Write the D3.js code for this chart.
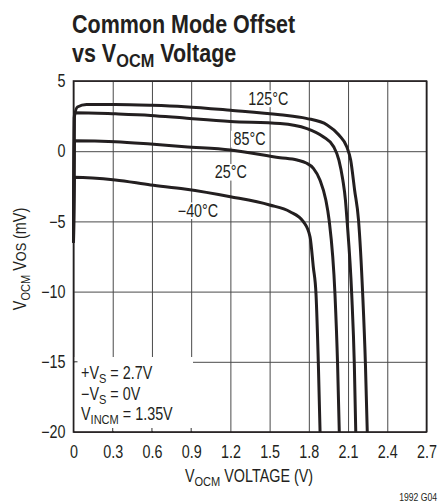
<!DOCTYPE html>
<html><head><meta charset="utf-8">
<script src="https://cdn.jsdelivr.net/npm/d3@7"></script>
<style>
html,body{margin:0;padding:0;background:#fff;}
svg text{font-family:"Liberation Sans",Arial,sans-serif;fill:#231f20;}
</style></head>
<body><svg id="c" width="438" height="504"></svg>
<script>
const xTicks = [0,0.3,0.6,0.9,1.2,1.5,1.8,2.1,2.4,2.7];
const xTickLabels = ["0","0.3","0.6","0.9","1.2","1.5","1.8","2.1","2.4","2.7"];
const yTicks = [5,0,-5,-10,-15,-20];
const yTickLabels = ["5","0","\u22125","\u221210","\u221215","\u221220"];
const seriesNames = ["125°C","85°C","25°C","\u221240°C"];
const s125 = [[0,-6.5],[0.006,2.4],[0.03,3.15],[0.1,3.32],[0.32,3.33],[0.6,3.27],[0.85,3.17],[1.2,2.92],[1.58,2.6],[1.78,2.34],[1.94,1.87],[2.03,1.15],[2.09,0.32],[2.12,-0.63],[2.15,-2.76],[2.18,-4.9],[2.212,-10.2],[2.233,-15.2],[2.247,-20]];
const s85 = [[0,-6.5],[0.008,2.74],[0.32,2.66],[0.59,2.55],[0.85,2.36],[1.2,2.12],[1.58,1.97],[1.78,1.63],[1.91,1.03],[1.99,0.32],[2.03,-0.63],[2.06,-2.05],[2.08,-3.48],[2.092,-4.9],[2.128,-10.2],[2.148,-15.2],[2.159,-20]];
const s25 = [[0,-6.5],[0.008,0.75],[0.32,0.68],[0.59,0.51],[0.85,0.32],[1.2,0.09],[1.58,-0.46],[1.71,-0.63],[1.78,-0.84],[1.835,-1.22],[1.885,-2.05],[1.93,-3.48],[1.955,-4.9],[2.0,-10.2],[2.02,-15.2],[2.033,-20]];
const sm40 = [[0,-6.5],[0.008,-1.86],[0.32,-2.05],[0.59,-2.4],[0.85,-2.69],[1.2,-3.24],[1.5,-3.83],[1.656,-4.31],[1.758,-5.02],[1.809,-6.09],[1.834,-8.23],[1.855,-10.2],[1.873,-15.2],[1.886,-20]];
const seriesData = [s125,s85,s25,sm40];
const labelPos = [[1.49,3.3],[1.346,0.44],[1.203,-1.93],[0.952,-4.67]];
const noteLines = [["+V","S"," = 2.7V"],["\u2212V","S"," = 0V"],["V","INCM"," = 1.35V"]];

const SX = 0.82; // condensed look
const svg = d3.select("#c");
const L=73.5,R=426.5,T=81,B=432;
const x = d3.scaleLinear().domain([0,2.7]).range([L,R]);
const y = d3.scaleLinear().domain([-20,5]).range([B,T]);

function ntext(px,py,anchor,size,sx){
  const g = svg.append("g").attr("transform",`translate(${px},${py}) scale(${sx||SX},1)`);
  return g.append("text").attr("text-anchor",anchor).attr("font-size",size);
}

// grid via axes
svg.append("g").attr("transform",`translate(0,${B})`)
  .call(d3.axisBottom(x).tickValues(xTicks).tickSize(-(B-T)).tickFormat(""))
  .call(g=>{g.select(".domain").remove();g.selectAll("line").attr("stroke","#4a4a4a").attr("stroke-width",1);});
svg.append("g").attr("transform",`translate(${L},0)`)
  .call(d3.axisLeft(y).tickValues(yTicks).tickSize(-(R-L)).tickFormat(""))
  .call(g=>{g.select(".domain").remove();g.selectAll("line").attr("stroke","#4a4a4a").attr("stroke-width",1);});

// note box (white cover) + short ticks
svg.append("rect").attr("x",L+1).attr("y",357).attr("width",193-L-1).attr("height",B-357-1).attr("fill","#fff");
[0.3,0.6,0.9].forEach(v=>svg.append("line").attr("x1",x(v)).attr("x2",x(v)).attr("y1",B).attr("y2",B-4).attr("stroke","#333"));
svg.append("line").attr("x1",L).attr("x2",L+4).attr("y1",y(-15)).attr("y2",y(-15)).attr("stroke","#333");

// tick labels
svg.append("g").attr("transform",`translate(0,${B})`)
  .call(d3.axisBottom(x).tickValues(xTicks).tickSize(0).tickPadding(14).tickFormat((d,i)=>xTickLabels[i]))
  .call(g=>{g.select(".domain").remove();g.selectAll("text").attr("font-size",17.5).attr("fill","#231f20").attr("transform",`scale(${SX},1)`);})
  .attr("font-family",null);
svg.append("g").attr("transform",`translate(${L},0)`)
  .call(d3.axisLeft(y).tickValues(yTicks).tickSize(0).tickPadding(9).tickFormat((d,i)=>yTickLabels[i]))
  .call(g=>{g.select(".domain").remove();g.selectAll("text").attr("font-size",17.5).attr("fill","#231f20")
     .attr("x",-8/SX).attr("transform",`scale(${SX},1)`);})
  .attr("font-family",null);

// curves
const line = d3.line().x(d=>x(d[0])).y(d=>y(d[1])).curve(d3.curveMonotoneX);
svg.append("g").selectAll("path").data(seriesData).join("path")
  .attr("d",line).attr("fill","none").attr("stroke","#231f20").attr("stroke-width",3).attr("stroke-linejoin","round");

// frame
svg.append("rect").attr("x",L).attr("y",T).attr("width",R-L).attr("height",B-T)
  .attr("fill","none").attr("stroke","#231f20").attr("stroke-width",1.6);

// series labels with white background
seriesNames.forEach((n,i)=>{
  const t = ntext(x(labelPos[i][0]),y(labelPos[i][1]),"middle",17.5).text(n);
  const bb = t.node().getBBox();
  d3.select(t.node().parentNode).insert("rect","text").attr("x",bb.x-3).attr("y",bb.y+1).attr("width",bb.width+6).attr("height",bb.height-2).attr("fill","#fff");
});

// notes
noteLines.forEach((p,i)=>{
  const t = ntext(81,379+i*20.5,"start",17.5);
  t.append("tspan").text(p[0]);
  t.append("tspan").attr("dy",4).attr("font-size",13.5).text(p[1]);
  t.append("tspan").attr("dy",-4).text(p[2]);
});

// title
ntext(72,33,"start",25,0.86).attr("font-weight","bold").text("Common Mode Offset");
const t2 = ntext(72,62,"start",25,0.86).attr("font-weight","bold");
t2.append("tspan").text("vs V");
t2.append("tspan").attr("dy",5).attr("font-size",19).text("OCM");
t2.append("tspan").attr("dy",-5).text(" Voltage");

// x axis title
const xt = ntext(249,482,"middle",17.5);
xt.append("tspan").text("V");
xt.append("tspan").attr("dy",4).attr("font-size",13.5).text("OCM");
xt.append("tspan").attr("dy",-4).text(" VOLTAGE (V)");

// y axis title
const ytg = svg.append("g").attr("transform","translate(26,259) rotate(-90) scale(0.82,1)");
const yt = ytg.append("text").attr("text-anchor","middle").attr("font-size",17.5);
yt.append("tspan").text("V");
yt.append("tspan").attr("dy",4).attr("font-size",13.5).text("OCM");
yt.append("tspan").attr("dy",-4).text(" V");
yt.append("tspan").attr("font-size",15.5).text("OS");
yt.append("tspan").text(" (mV)");

ntext(437,501,"end",10.5).text("1992 G04");
</script></body></html>
